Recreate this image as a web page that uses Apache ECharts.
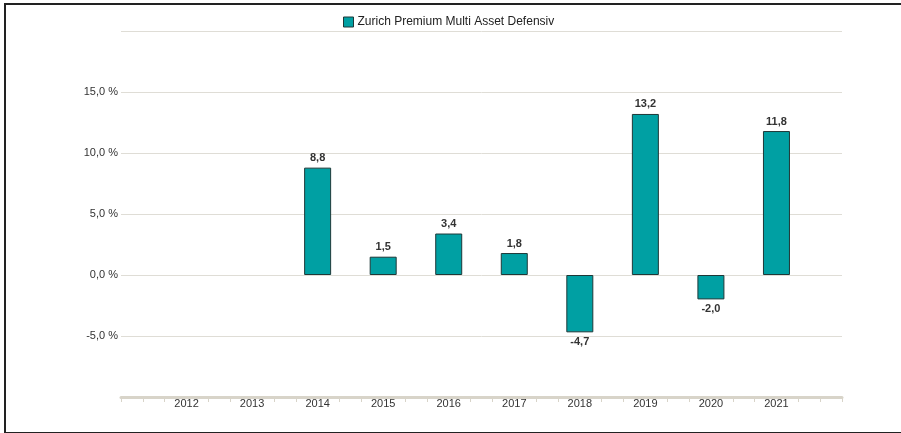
<!DOCTYPE html>
<html>
<head>
<meta charset="utf-8">
<script src="https://cdn.jsdelivr.net/npm/echarts@6/dist/echarts.min.js"></script>
<style>
html,body{margin:0;padding:0;background:#fff;}
#wrap{position:relative;width:901px;height:433px;overflow:hidden;}
#ch{position:absolute;left:0;top:0;width:901px;height:433px;}
#frame{position:absolute;left:4px;top:3px;width:910px;height:427px;border:2px solid #222;pointer-events:none;}
</style>
</head>
<body>
<div id="wrap"><div id="ch"></div><div id="frame"></div></div>
<script>
// yearly performance, in %
var seriesName = "Zurich Premium Multi Asset Defensiv";
var years  = [2012, 2013, 2014, 2015, 2016, 2017, 2018, 2019, 2020, 2021];
var values = [null, null, 8.8, 1.5, 3.4, 1.8, -4.7, 13.2, -2.0, 11.8];
var yTicks = [-10, -5, 0, 5, 10, 15, 20];

var TEAL = "#00a0a3", EDGE = "#1e3838", GRID = "#dfddd6", AXIS = "#d8d4c9";
var FONT = "'Liberation Sans', Arial, sans-serif";
function fmt(v){ return v.toFixed(1).replace(".", ","); }

var xMin = years[0] - 1, xMax = years[years.length-1] + 1;
var data = [];
years.forEach(function(y, i){
  var v = values[i];
  if(v == null) return;
  data.push(v < 0 ? {value:[y, v], label:{position:"bottom"}} : [y, v]);
});

var ch = echarts.init(document.getElementById("ch"), null, {renderer:"canvas"});
ch.setOption({
  animation:false,
  textStyle:{fontFamily:FONT},
  legend:{
    left:338, top:11, itemWidth:10, itemHeight:10, itemGap:10,
    textStyle:{fontSize:12, color:"#222", fontFamily:FONT, padding:[0,0,0,-1]},
    data:[{name:seriesName, icon:"rect", itemStyle:{color:TEAL, borderColor:EDGE, borderWidth:1}}]
  },
  grid:{left:121, right:59, top:31, bottom:36, containLabel:false},
  xAxis:{
    type:"value", min:xMin, max:xMax, interval:1,
    axisLine:{show:true, onZero:false, lineStyle:{color:AXIS, width:3}},
    axisTick:{show:true, customValues:[xMin, xMax], length:5, lineStyle:{color:AXIS, width:1}},
    minorTick:{show:true, splitNumber:3, length:5, lineStyle:{color:AXIS, width:1}},
    splitLine:{show:false},
    axisLabel:{color:"#333", fontSize:11, margin:1, fontFamily:FONT,
      formatter:function(v){ return years.indexOf(v) >= 0 ? String(v) : ""; }}
  },
  yAxis:{
    type:"value", min:yTicks[0], max:yTicks[yTicks.length-1], interval:5,
    axisLine:{show:false}, axisTick:{show:false},
    splitLine:{lineStyle:{color:GRID, width:1}},
    axisLabel:{color:"#333", fontSize:11, margin:3, fontFamily:FONT,
      formatter:function(v){ return (v === yTicks[0] || v === yTicks[yTicks.length-1]) ? "" : fmt(v) + " %"; }}
  },
  series:[{
    type:"bar", name:seriesName, data:data, barWidth:27,
    itemStyle:{color:TEAL, borderColor:EDGE, borderWidth:1},
    label:{show:true, position:"top", distance:4, color:"#333", fontSize:11, fontWeight:"bold", fontFamily:FONT,
      formatter:function(p){ return fmt(p.value[1]); }},
    emphasis:{disabled:true}
  }]
});
</script>
</body>
</html>
